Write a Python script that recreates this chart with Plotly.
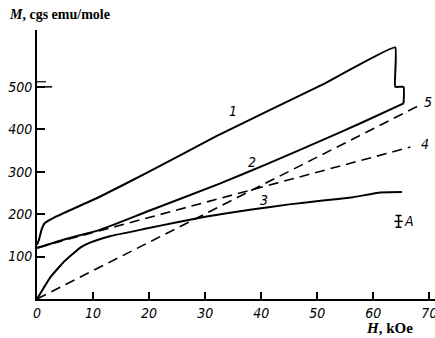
import plotly.graph_objects as go

# ---- data ----
H1 = [0, 0.36, 0.8, 1.4, 3.2, 11.2, 20, 32, 51, 63.9, 63.9, 65.4, 65.4]
M1 = [128, 140, 163, 179, 193, 241, 300, 384, 506, 593, 500, 500, 461]

H2 = [0, 5, 11.2, 20, 32.6, 41, 51, 58, 65.4]
M2 = [120, 141, 163, 208, 272, 318, 375, 416, 461]

H3 = [0, 2.3, 4.6, 7.6, 9.7, 13, 19.5, 25, 30, 38.3, 45, 51, 56.4, 61.2, 65.1]
M3 = [0, 50, 85, 120, 134, 148, 166, 181, 194, 211, 223, 232, 240, 251, 252]

H4 = [0, 66.6]
M4 = [121, 358]

H5 = [0, 68.3]
M5 = [0, 457]

errA_H = [64.5]
errA_M = [183]
errA_d = [14]

x_ticks = [0, 10, 20, 30, 40, 50, 60, 70]
y_ticks = [100, 200, 300, 400, 500]

curve_labels = ["1", "2", "3", "4", "5", "A"]
label_H = [35, 38.3, 40.5, 69.2, 69.8, 66.3]
label_M = [443, 324, 234, 366, 465, 183]

fig = go.Figure()
solid = dict(color="black", width=2)
dash = dict(color="black", width=1.6, dash="10px,6px")
fig.add_trace(go.Scatter(x=H1, y=M1, mode="lines", line=solid, line_shape="spline", line_smoothing=0.3))
fig.add_trace(go.Scatter(x=H2, y=M2, mode="lines", line=solid, line_shape="spline", line_smoothing=0.6))
fig.add_trace(go.Scatter(x=H3, y=M3, mode="lines", line=solid, line_shape="spline", line_smoothing=0.3))
fig.add_trace(go.Scatter(x=H4, y=M4, mode="lines", line=dash))
fig.add_trace(go.Scatter(x=H5, y=M5, mode="lines", line=dash))
fig.add_trace(go.Scatter(x=errA_H, y=errA_M, mode="markers",
                         marker=dict(symbol="line-ew", size=6, line=dict(color="black", width=1.5)),
                         error_y=dict(type="data", array=errA_d, color="black", thickness=1.5, width=3)))

fam = "DejaVu Sans Condensed, Liberation Sans Narrow, Arial Narrow, sans-serif"
tickfont = dict(family=fam, size=14, color="black", style="italic")

fig.update_layout(
    width=435, height=338,
    margin=dict(l=37, r=0, t=30, b=39),
    plot_bgcolor="white", paper_bgcolor="white",
    showlegend=False,
    xaxis=dict(range=[0, 71.0], tickvals=x_ticks, ticks="inside", ticklen=7, tickwidth=1.5,
               tickcolor="black", showline=True, linecolor="black", linewidth=2,
               showgrid=False, zeroline=False, tickfont=tickfont, fixedrange=True,
               automargin=False, ticklabeloverflow="allow"),
    yaxis=dict(range=[0, 634], tickvals=y_ticks, ticks="inside", ticklen=8, tickwidth=1.5,
               tickcolor="black", showline=True, linecolor="black", linewidth=2,
               showgrid=False, zeroline=False, tickfont=tickfont, fixedrange=True,
               automargin=False, ticklabeloverflow="allow"),
)

# extra marks at 500 on the M axis
fig.add_shape(type="line", xref="x", yref="y", x0=0, x1=2.7, y0=y_ticks[-1], y1=y_ticks[-1],
              line=dict(color="black", width=1.5))
fig.add_shape(type="line", xref="x", yref="y", x0=0, x1=1.6, y0=y_ticks[-1] + 12, y1=y_ticks[-1] + 12,
              line=dict(color="black", width=1.2))

for t, hx, my in zip(curve_labels, label_H, label_M):
    fig.add_annotation(x=hx, y=my, text=t, showarrow=False, xanchor="center", yanchor="middle",
                       font=dict(family=fam, size=14, color="black", style="italic"))

fig.add_annotation(xref="paper", yref="paper", x=-0.075, y=1.0, yshift=16, xanchor="left", yanchor="middle",
                   text="<i>M</i>, cgs emu/mole", showarrow=False,
                   font=dict(family="Liberation Serif, serif", size=14, color="black", weight="bold"))
fig.add_annotation(xref="paper", yref="paper", x=0.822, y=0, yshift=-29, xanchor="left", yanchor="middle",
                   text="<i>H</i>, kOe", showarrow=False,
                   font=dict(family="Liberation Serif, serif", size=15, color="black", weight="bold"))

fig.write_html("out.html", config={"displayModeBar": False},
               post_script="document.body.style.margin='0';document.body.style.overflow='hidden';")
